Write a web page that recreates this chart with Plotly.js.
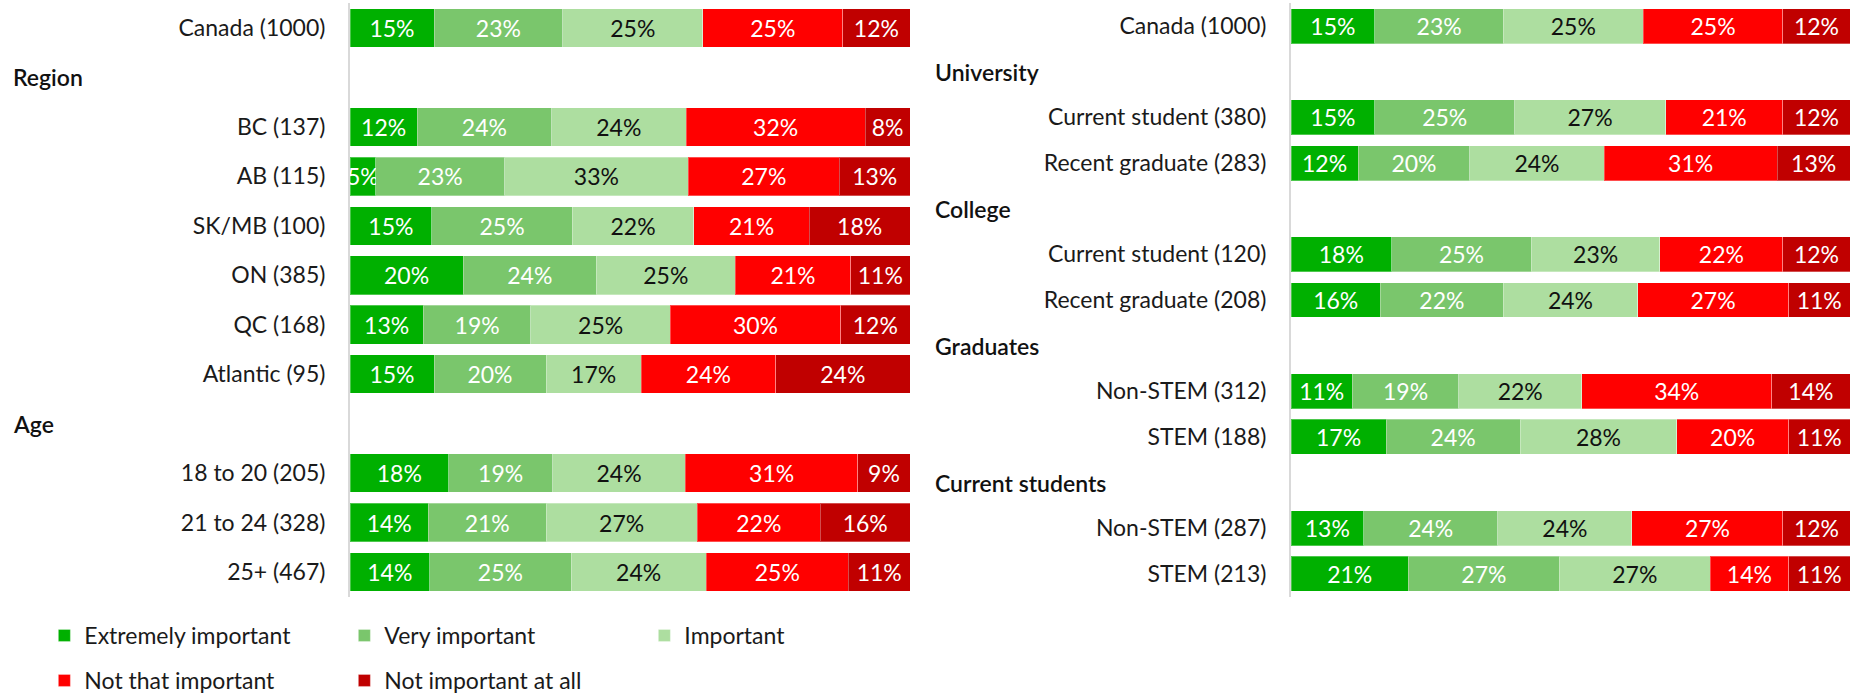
<!DOCTYPE html>
<html>
<head>
<meta charset="utf-8">
<script src="https://cdn.plot.ly/plotly-3.0.1.min.js"></script>
<style>
  html, body { margin: 0; padding: 0; background: #ffffff; }
  #chart { width: 1864px; height: 696px; }
</style>
</head>
<body>
<div id="chart"></div>
<script>
// ---------- DATA ----------
const LEVELS = ['Extremely important', 'Very important', 'Important', 'Not that important', 'Not important at all'];

// Left panel: full category order (headers included) and bar rows
const leftCategories = ['Canada (1000)', 'Region', 'BC (137)', 'AB (115)', 'SK/MB (100)', 'ON (385)', 'QC (168)', 'Atlantic (95)', 'Age', '18 to 20 (205)', '21 to 24 (328)', '25+ (467)'];
const leftHeaders = ['Region', 'Age'];
const leftRows = ['Canada (1000)', 'BC (137)', 'AB (115)', 'SK/MB (100)', 'ON (385)', 'QC (168)', 'Atlantic (95)', '18 to 20 (205)', '21 to 24 (328)', '25+ (467)'];
const leftExtremely = [15, 12, 4.6, 14.6, 20.2, 13.1, 15, 17.6, 14, 14.2];
const leftVery      = [23, 24, 23, 25.1, 23.8, 19.2, 20, 18.6, 21, 25.3];
const leftImportant = [25, 24, 32.8, 21.7, 24.8, 24.9, 17, 23.7, 27, 24.1];
const leftNotThat   = [25, 32, 27, 20.6, 20.6, 30.4, 24, 30.8, 22, 25.4];
const leftNotAtAll  = [12, 8, 12.6, 18, 10.6, 12.4, 24, 9.3, 16, 11.0];

// Right panel
const rightCategories = ['Canada (1000)', 'University', 'Current student (380)', 'Recent graduate (283)', 'College', 'Current student (120)', 'Recent graduate (208)', 'Graduates', 'Non-STEM (312)', 'STEM (188)', 'Current students', 'Non-STEM (287)', 'STEM (213)'];
const rightHeaders = ['University', 'College', 'Graduates', 'Current students'];
const rightRows = ['Canada (1000)', 'Current student (380)', 'Recent graduate (283)', 'Current student (120)', 'Recent graduate (208)', 'Non-STEM (312)', 'STEM (188)', 'Non-STEM (287)', 'STEM (213)'];
const rightExtremely = [15, 15, 12, 18, 16, 11, 17, 13, 21];
const rightVery      = [23, 25, 20, 25, 22, 19, 24, 24, 27];
const rightImportant = [25, 27, 24, 23, 24, 22, 28, 24, 27];
const rightNotThat   = [25, 21, 31, 22, 27, 34, 20, 27, 14];
const rightNotAtAll  = [12, 12, 13, 12, 11, 14, 11, 12, 11];

// ---------- STYLE ----------
const COLORS = ['#00B000', '#7AC66C', '#ADDEA0', '#FF0000', '#C00000'];
const TEXTCOLORS = ['#ffffff', '#ffffff', '#111111', '#ffffff', '#ffffff'];
const FONT = 'Lato, "Open Sans", sans-serif';

const leftSeries = [leftExtremely, leftVery, leftImportant, leftNotThat, leftNotAtAll];
const rightSeries = [rightExtremely, rightVery, rightImportant, rightNotThat, rightNotAtAll];

const traces = [];
LEVELS.forEach((name, i) => {
  traces.push({
    type: 'bar', orientation: 'h', name: name,
    x: leftSeries[i], y: leftRows,
    xaxis: 'x', yaxis: 'y',
    width: 0.78,
    marker: { color: COLORS[i], line: { color: 'rgba(255,255,255,0.3)', width: 1 } },
    texttemplate: '%{x:.0f}%', textposition: 'inside', insidetextanchor: 'middle',
    textangle: 0, constraintext: 'none',
    insidetextfont: { family: FONT, size: 23, color: TEXTCOLORS[i] },
    legend: i < 3 ? 'legend' : 'legend2',
    showlegend: true, hoverinfo: 'none'
  });
});
LEVELS.forEach((name, i) => {
  traces.push({
    type: 'bar', orientation: 'h', name: name,
    x: rightSeries[i], y: rightRows,
    xaxis: 'x2', yaxis: 'y2',
    width: 0.766,
    marker: { color: COLORS[i], line: { color: 'rgba(255,255,255,0.3)', width: 1 } },
    texttemplate: '%{x:.0f}%', textposition: 'inside', insidetextanchor: 'middle',
    textangle: 0, constraintext: 'none',
    insidetextfont: { family: FONT, size: 23, color: TEXTCOLORS[i] },
    showlegend: false, hoverinfo: 'none'
  });
});

const annotations = [];
leftHeaders.forEach(h => annotations.push({
  text: h, xref: 'paper', x: 11 / 1864, xanchor: 'left', yref: 'y', y: leftCategories.indexOf(h),
  showarrow: false, font: { family: FONT, size: 23, color: '#111111', weight: 600 }
}));
rightHeaders.forEach(h => annotations.push({
  text: h, xref: 'paper', x: 933 / 1864, xanchor: 'left', yref: 'y2', y: rightCategories.indexOf(h),
  showarrow: false, font: { family: FONT, size: 23, color: '#111111', weight: 600 }
}));

const yCommon = {
  type: 'category', categoryorder: 'array', showgrid: false, zeroline: false,
  showline: true, linecolor: '#d9d9d9', linewidth: 2, ticks: '',
  ticklabelstandoff: 18, tickfont: { family: FONT, size: 23, color: '#1a1a1a' },
  tickmode: 'array', fixedrange: true
};
const xCommon = { range: [0, 100], visible: false, showgrid: false, zeroline: false, fixedrange: true };
const yDomain = [1 - 596.8 / 696, 1 - 3.2 / 696];

const layout = {
  width: 1864, height: 696,
  margin: { l: 0, r: 0, t: 0, b: 0, autoexpand: false },
  paper_bgcolor: '#ffffff', plot_bgcolor: 'rgba(0,0,0,0)',
  barmode: 'stack',
  font: { family: FONT },
  xaxis: Object.assign({}, xCommon, { domain: [350 / 1864, 910 / 1864], anchor: 'y' }),
  yaxis: Object.assign({}, yCommon, {
    domain: yDomain, anchor: 'x', categoryarray: leftCategories,
    range: [leftCategories.length - 0.5, -0.5], tickvals: leftRows, ticktext: leftRows
  }),
  xaxis2: Object.assign({}, xCommon, { domain: [1291 / 1864, 1850 / 1864], anchor: 'y2' }),
  yaxis2: Object.assign({}, yCommon, {
    domain: yDomain, anchor: 'x2', categoryarray: rightCategories,
    range: [rightCategories.length - 0.5, -0.5], tickvals: rightRows, ticktext: rightRows
  }),
  legend: {
    orientation: 'h', x: 0.0238, xanchor: 'left', y: 1 - 614 / 696, yanchor: 'top',
    entrywidth: 255, entrywidthmode: 'pixels', traceorder: 'normal',
    font: { family: FONT, size: 23, color: '#1a1a1a' }, bgcolor: 'rgba(0,0,0,0)'
  },
  legend2: {
    orientation: 'h', x: 0.0238, xanchor: 'left', y: 1 - 659 / 696, yanchor: 'top',
    entrywidth: 255, entrywidthmode: 'pixels', traceorder: 'normal',
    font: { family: FONT, size: 23, color: '#1a1a1a' }, bgcolor: 'rgba(0,0,0,0)'
  },
  annotations: annotations,
  hovermode: false
};

Plotly.newPlot('chart', traces, layout, { displayModeBar: false, staticPlot: true });
</script>
</body>
</html>
